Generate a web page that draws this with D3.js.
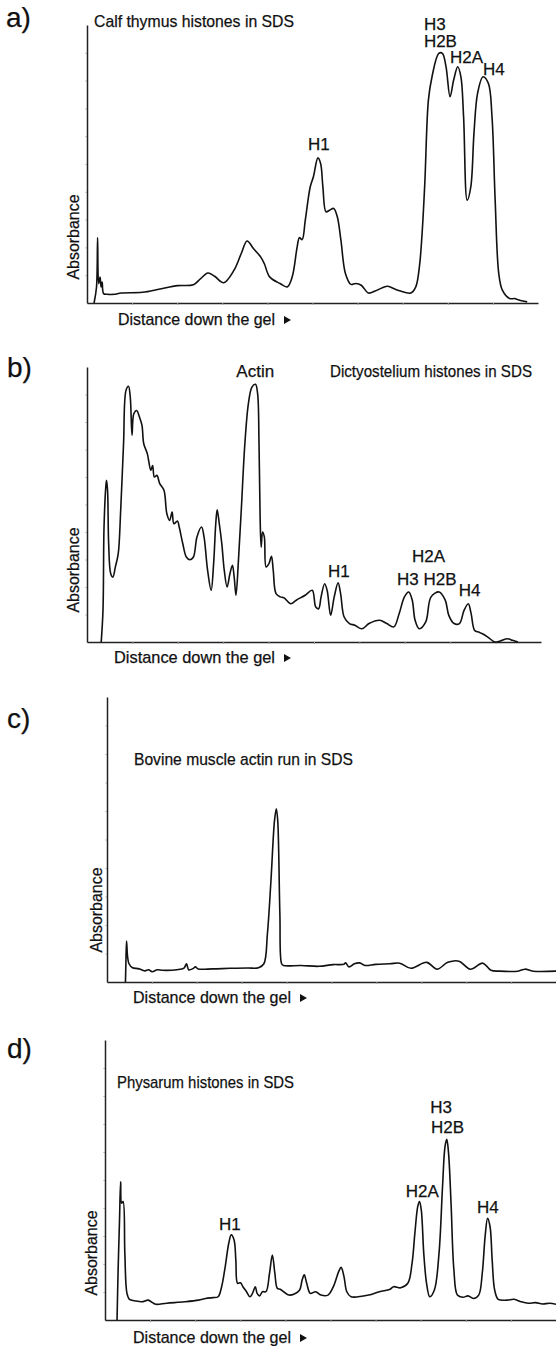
<!DOCTYPE html>
<html>
<head>
<meta charset="utf-8">
<script src="https://cdn.jsdelivr.net/npm/d3@7"></script>
<style>
  body { margin: 0; background: #fff; }
  text { font-family: "Liberation Sans", Arial, sans-serif; fill: #111; stroke: #111; stroke-width: 0.25px; }
</style>
</head>
<body>
<script>

// densitometer traces, [distance, absorbance], arbitrary units (axis length = 100)
var traceA = [
  [1.57,0],[2.11,5.76],[2.35,23.5],[2.58,6.96],[2.90,9.36],[3.13,5.76],[3.36,7.56],[3.68,3.36],
  [4.46,3.12],[6.03,3.12],[7.59,3.6],[12.29,3.84],[16.2,5.04],[20.1,6.24],[23.6,6.6],[25.2,8.76],
  [26.8,10.8],[28.3,9.6],[30.3,7.3],[32.6,11.8],[34.2,17.8],[35.5,22.3],[36.9,19.6],[38.5,16.6],
  [39.3,14.2],[40.5,9.4],[42.8,7.0],[44.4,5.8],[45.5,9.4],[46.6,20.2],[47.1,23.5],[47.7,22.8],
  [48.4,29.8],[49.5,41.8],[50.2,45.4],[51.2,52.2],[51.8,50.2],[52.3,41.8],[53.0,32.8],[53.8,33.4],
  [54.7,34.0],[55.5,31.0],[56.3,22.6],[57.3,10.6],[58.5,6.7],[59.6,7.0],[60.8,6.4],[62.4,3.6],
  [63.9,4.3],[65.5,5.5],[66.7,6.0],[68.6,4.8],[71.8,3.6],[72.9,5.8],[73.7,13.0],[74.3,25.0],
  [74.9,43.0],[75.7,73.0],[76.5,81.4],[78.0,89.8],[78.8,89.8],[79.6,85.0],[80.5,74.2],[81.3,80.2],
  [82.2,85.0],[82.9,81.4],[83.5,67.0],[84.3,37.0],[85.1,41.8],[85.8,61.0],[86.6,75.4],[87.8,81.4],
  [89.0,79.0],[89.8,67.0],[90.5,37.0],[91.3,10.6],[92.1,4.6],[93.7,1.6],[94.8,1.6],[95.6,1.2],[97.6,0.4]
]

var traceB = [
  [3.13,0],[3.52,11.5],[3.75,41.8],[4.14,56.4],[4.30,58.8],[4.53,55.2],[4.77,35.8],[5.23,24.8],
  [5.70,23.6],[6.25,27.3],[6.88,32.1],[7.42,47.9],[8.05,72.1],[8.59,91.5],[9.14,93.0],[9.53,89.1],
  [9.92,75.2],[10.31,83.0],[10.94,84.2],[11.56,81.8],[12.11,78.8],[12.50,72.1],[13.28,68.5],
  [14.06,62.4],[14.45,64.2],[14.84,60.0],[15.39,60.6],[16.02,57.6],[16.95,55.2],[17.58,46.7],
  [18.20,44.2],[18.75,47.3],[19.14,43.0],[19.92,44.0],[20.31,41.8],[21.09,35.8],[21.88,30.9],
  [22.66,29.9],[23.44,30.9],[24.22,38.2],[25.23,41.8],[25.78,38.2],[26.56,26.1],[27.34,18.8],
  [27.89,28.5],[28.36,43.0],[28.67,48.1],[29.14,43.0],[29.69,35.8],[30.23,26.1],[30.86,20.0],
  [31.48,24.8],[32.03,27.9],[32.42,23.6],[32.81,17.0],[33.36,29.7],[33.98,47.9],[34.77,72.1],
  [35.55,86.7],[36.33,92.7],[37.11,93.7],[37.58,90.3],[37.89,72.1],[38.13,45.5],[38.36,34.5],
  [38.67,40.0],[39.06,38.2],[39.45,27.3],[40.08,28.5],[40.63,31.2],[41.02,26.1],[41.64,17.6],
  [42.58,16.4],[43.36,16.1],[44.92,13.9],[46.09,15.2],[48.05,17.0],[49.61,18.8],[50.39,12.7],
  [51.02,12.1],[51.56,16.4],[52.34,21.2],[52.89,18.8],[53.67,9.7],[54.45,16.4],[55.31,21.5],
  [55.86,17.6],[56.64,9.1],[57.81,6.7],[58.98,6.1],[60.55,4.8],[62.11,6.7],[64.45,7.9],[66.02,6.7],
  [67.58,5.5],[68.75,10.3],[69.92,16.4],[70.86,18.2],[71.64,15.2],[72.27,7.9],[73.20,4.8],
  [74.61,7.3],[75.78,16.4],[77.58,18.2],[78.91,15.2],[79.69,9.7],[80.86,6.7],[82.03,6.7],
  [83.05,11.5],[83.98,13.9],[84.61,10.3],[85.39,4.2],[86.33,3.6],[87.11,3.0],[88.28,1.8],
  [89.84,0],[91.02,0.4],[92.58,1.2],[93.75,0.6],[94.92,0]
]

var traceC = [
  [4.11,0],[4.19,5.26],[4.35,14.4],[4.59,8.8],[4.90,6.4],[5.69,5.0],[6.88,4.7],[7.67,4.3],
  [8.46,3.9],[9.25,4.3],[10.04,3.6],[11.23,4.3],[12.41,4.1],[15.57,4.3],[17.15,4.9],[17.71,6.4],
  [18.18,4.3],[19.13,4.7],[19.68,5.3],[20.32,4.6],[23.48,4.6],[27.43,4.8],[31.38,4.9],[33.75,5.0],
  [34.94,6.4],[35.73,17.0],[36.52,35.7],[37.31,56.7],[37.71,60.8],[38.02,56.7],[38.50,24.0],
  [38.89,6.4],[39.29,5.8],[43.24,5.8],[47.19,5.5],[50.36,6.1],[52.73,6.2],[53.12,6.7],[53.91,5.3],
  [55.10,6.4],[56.28,6.7],[57.47,5.8],[59.84,6.2],[63.0,6.4],[65.2,6.6],[67.7,4.8],[71.2,6.9],
  [73.5,4.5],[75.9,6.9],[78.4,7.3],[80.9,4.5],[83.7,6.6],[85.5,4.1],[87.5,3.8],[91.5,3.8],
  [93.1,4.5],[94.9,3.8],[100,3.8]
]

var traceD = [
  [2.67,0],[2.91,17.9],[3.22,35.7],[3.46,49.4],[3.69,41.7],[4.01,42.3],[4.40,23.8],[4.87,9.5],
  [5.42,7.4],[6.60,6.9],[8.18,6.5],[9.59,7.1],[10.53,6.2],[11.32,5.6],[13.68,6.0],[17.61,6.5],
  [20.75,7.1],[22.33,7.7],[23.90,8.0],[25.08,8.3],[25.86,11.9],[26.65,19.0],[27.44,27.4],
  [27.99,30.4],[28.62,28.6],[29.01,21.4],[29.40,13.1],[30.03,13.3],[30.58,11.9],[31.37,10.1],
  [32.15,8.3],[32.70,9.5],[33.33,11.9],[33.73,9.5],[34.28,8.6],[34.91,10.1],[35.69,10.1],
  [36.48,16.7],[37.11,23.2],[37.66,16.7],[38.21,11.3],[38.84,11.0],[39.62,10.1],[40.80,8.9],
  [41.98,9.3],[43.16,10.7],[43.71,14.3],[44.18,16.1],[44.73,13.1],[45.52,9.5],[46.70,10.1],
  [47.88,8.9],[49.45,8.9],[50.63,11.9],[51.81,17.3],[52.36,18.8],[52.99,15.5],[53.62,10.1],
  [54.56,8.3],[56.13,8.3],[58.49,8.9],[60.85,10.1],[63.21,11.0],[63.99,11.9],[65.57,11.5],
  [67.14,13.1],[68.08,20.2],[68.71,31.0],[69.34,40.5],[69.73,42.3],[70.13,39.3],[70.68,23.8],
  [71.30,13.1],[72.01,8.3],[73.03,10.7],[74.06,23.8],[74.84,47.6],[75.39,61.9],[75.79,64.5],
  [76.18,59.5],[76.73,41.7],[77.36,17.9],[78.14,8.9],[79.32,8.1],[80.50,8.6],[81.68,7.7],
  [82.86,8.9],[83.65,16.7],[84.28,29.8],[84.83,36.3],[85.38,33.3],[85.85,21.4],[86.40,10.7],
  [87.19,7.4],[89.15,7.1],[90.72,7.4],[92.30,6.5],[93.87,6.0],[95.44,6.2],[97.01,5.7],[98.58,6.0],[100,5.6]
]

// band labels, anchored in data units (left edge, baseline)
var labelsA = [
  {t:"H1", d:49.0, a:55.0}, {t:"H3", d:74.7, a:98.2}, {t:"H2B", d:74.7, a:92.1},
  {t:"H2A", d:80.5, a:86.3}, {t:"H4", d:87.8, a:82.0}
]
var labelsB = [
  {t:"Actin", d:32.9, a:96.4}, {t:"H1", d:53.1, a:23.6}, {t:"H2A", d:71.6, a:29.1},
  {t:"H3 H2B", d:68.3, a:20.7}, {t:"H4", d:81.9, a:16.7}
]
var labelsC = []
var labelsD = [
  {t:"H1", d:25.3, a:32.1}, {t:"H2A", d:66.7, a:43.9}, {t:"H3", d:72.1, a:73.9},
  {t:"H2B", d:72.3, a:66.8}, {t:"H4", d:82.5, a:38.2}
]

var titles = ["Calf thymus histones in SDS", "Dictyostelium histones in SDS",
              "Bovine muscle actin run in SDS", "Physarum histones in SDS"]
var tags = ["a)", "b)", "c)", "d)"]
var yLabel = "Absorbance"
var xLabel = "Distance down the gel"

var traces = [traceA, traceB, traceC, traceD]
var labels = [labelsA, labelsB, labelsC, labelsD]

// panel geometry in page pixels
var layout = [
  {x0:87,  x1:538, top:25,   bottom:303,  tagX:6, tagY:27,   titleX:94,  titleY:27,   titleW:200, absX:79,  absY:237,  distX:118, distY:325,  distW:157},
  {x0:87,  x1:541, top:367,  bottom:642,  tagX:7, tagY:377,  titleX:330, titleY:377,  titleW:202, absX:79,  absY:570,  distX:114, distY:663,  distW:161},
  {x0:107, x1:556, top:697,  bottom:982,  tagX:7, tagY:728,  titleX:134, titleY:765,  titleW:219, absX:102, absY:910,  distX:133, distY:1003, distW:158},
  {x0:105, x1:556, top:1040, bottom:1320, tagX:7, tagY:1058, titleX:117, titleY:1088, titleW:177, absX:97,  absY:1253, distX:133, distY:1343, distW:158}
]

var svg = d3.select("body").append("svg")
  .attr("width", 556)
  .attr("height", 1346)

svg.append("rect").attr("width", 556).attr("height", 1346).attr("fill", "#fff")

layout.forEach(function(p, i) {
  var x = d3.scaleLinear().domain([0, 100]).range([p.x0, p.x1])
  var y = d3.scaleLinear().domain([0, 100]).range([p.bottom, p.top])
  var g = svg.append("g")

  g.append("g")
    .attr("transform", "translate(0," + p.bottom + ")")
    .call(d3.axisBottom(x).tickValues(d3.range(10, 100, 10)).tickSize(2).tickSizeOuter(0).tickFormat(""))
  g.append("g")
    .attr("transform", "translate(" + p.x0 + ",0)")
    .call(d3.axisLeft(y).tickValues(d3.range(10, 100, 10)).tickSize(1.5).tickSizeOuter(0).tickFormat(""))
  g.selectAll(".domain").attr("stroke", "#222").attr("stroke-width", 1.5)
  g.selectAll(".tick line").attr("stroke", "#999").attr("stroke-width", 1)

  var line = d3.line()
    .x(function(d) { return x(d[0]) })
    .y(function(d) { return y(d[1]) })
    .curve(d3.curveCatmullRom.alpha(0.5))

  g.append("path")
    .datum(traces[i])
    .attr("fill", "none")
    .attr("stroke", "#111")
    .attr("stroke-width", 1.6)
    .attr("stroke-linejoin", "round")
    .attr("d", line)

  g.append("text")
    .attr("x", p.tagX).attr("y", p.tagY)
    .style("font-size", "28px")
    .text(tags[i])

  g.append("text")
    .attr("x", p.titleX).attr("y", p.titleY)
    .style("font-size", "17px")
    .attr("textLength", p.titleW)
    .attr("lengthAdjust", "spacingAndGlyphs")
    .text(titles[i])

  g.selectAll(".band")
    .data(labels[i])
    .enter().append("text")
    .attr("class", "band")
    .attr("x", function(d) { return x(d.d) })
    .attr("y", function(d) { return y(d.a) })
    .style("font-size", "17px")
    .text(function(d) { return d.t })

  g.append("text")
    .attr("transform", "translate(" + p.absX + "," + p.absY + ") rotate(-90)")
    .attr("text-anchor", "middle")
    .style("font-size", "17px")
    .attr("textLength", 85)
    .attr("lengthAdjust", "spacingAndGlyphs")
    .text(yLabel)

  g.append("text")
    .attr("x", p.distX).attr("y", p.distY)
    .style("font-size", "17px")
    .attr("textLength", p.distW)
    .attr("lengthAdjust", "spacingAndGlyphs")
    .text(xLabel)

  var tx = p.distX + p.distW + 9
  var ty = p.distY - 5
  g.append("path")
    .attr("d", "M" + tx + "," + (ty - 4) + "L" + (tx + 7) + "," + ty + "L" + tx + "," + (ty + 4) + "Z")
    .attr("fill", "#111")
})

</script>
</body>
</html>
